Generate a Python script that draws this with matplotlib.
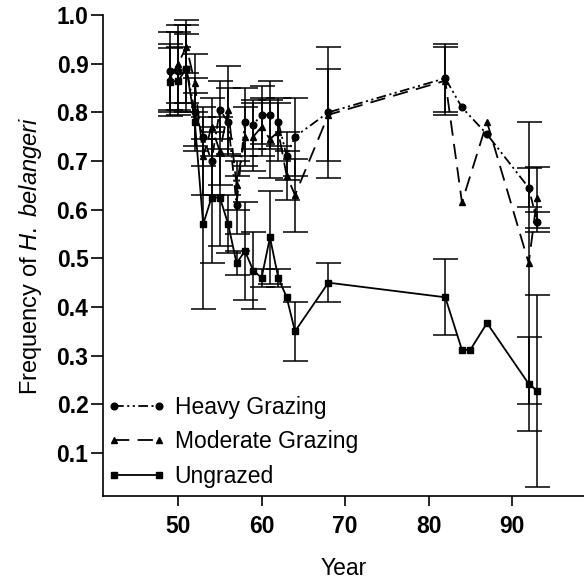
import matplotlib
matplotlib.use("Agg")
import matplotlib.pyplot as plt

plt.rcParams['font.family'] = ['Liberation Sans', 'DejaVu Sans']
plt.rcParams['lines.scale_dashes'] = False
plt.rcParams['mathtext.fontset'] = 'custom'
plt.rcParams['mathtext.rm'] = 'Liberation Sans'
plt.rcParams['mathtext.it'] = 'Liberation Sans:italic'

# ---- data ----
heavy_years = [49, 50, 51, 52, 53, 54, 55, 56, 57, 58, 59, 60, 61, 62, 63, 64, 68, 82, 84, 87, 92, 93]
heavy_vals  = [0.885, 0.885, 0.89, 0.80, 0.75, 0.70, 0.805, 0.78, 0.61, 0.78, 0.775, 0.795, 0.795, 0.78, 0.71, 0.75, 0.80, 0.87, 0.81, 0.755, 0.645, 0.575]
heavy_err   = [0.08, 0.08, 0.09, 0.07, 0.06, 0.07, 0.06, 0.07, 0.06, 0.07, 0.05, 0.06, 0.07, 0.05, 0.05, 0.08, 0.135, 0.07, 0.0, 0.0, 0.04, 0.02]

moder_years = [49, 50, 51, 52, 53, 54, 55, 56, 57, 58, 59, 60, 61, 62, 63, 64, 68, 82, 84, 87, 92, 93]
moder_vals  = [0.87, 0.90, 0.935, 0.86, 0.71, 0.77, 0.72, 0.805, 0.65, 0.75, 0.75, 0.77, 0.745, 0.76, 0.67, 0.63, 0.795, 0.865, 0.615, 0.78, 0.49, 0.625]
moder_err   = [0.07, 0.08, 0.055, 0.06, 0.08, 0.06, 0.07, 0.09, 0.05, 0.06, 0.07, 0.06, 0.08, 0.06, 0.05, 0.075, 0.095, 0.07, 0.0, 0.0, 0.29, 0.062]

ungr_years = [49, 50, 51, 52, 53, 54, 55, 56, 57, 58, 59, 60, 61, 62, 63, 64, 68, 82, 84, 85, 87, 92, 93]
ungr_vals  = [0.862, 0.865, 0.89, 0.78, 0.57, 0.625, 0.625, 0.57, 0.49, 0.515, 0.475, 0.46, 0.543, 0.46, 0.42, 0.35, 0.45, 0.42, 0.312, 0.312, 0.367, 0.242, 0.228]
ungr_err   = [0.07, 0.07, 0.07, 0.06, 0.175, 0.135, 0.10, 0.06, 0.025, 0.10, 0.08, 0.018, 0.095, 0.018, 0.0, 0.06, 0.04, 0.078, 0.0, 0.0, 0.0, 0.097, 0.197]

x_ticks = [50, 60, 70, 80, 90]
y_ticks = [0.1, 0.2, 0.3, 0.4, 0.5, 0.6, 0.7, 0.8, 0.9, 1.0]

series = [
    ('Heavy Grazing', heavy_years, heavy_vals, heavy_err, 'o', (0, (7, 2.5, 1.5, 2.5, 1.5, 2.5))),
    ('Moderate Grazing', moder_years, moder_vals, moder_err, '^', (0, (11, 6))),
    ('Ungrazed', ungr_years, ungr_vals, ungr_err, 's', '-'),
]

# ---- figure ----
fig = plt.figure(figsize=(5.84, 5.79), dpi=100)
ax = fig.add_axes([103/584, 1 - 496/579, 1 - 103/584, (496 - 15)/579])

handles = []
for label, xs, ys, es, mk, ls in series:
    ex = [x for x, e in zip(xs, es) if e > 0]
    ey = [y for y, e in zip(ys, es) if e > 0]
    ee = [e for e in es if e > 0]
    ax.errorbar(ex, ey, yerr=ee, fmt='none', ecolor='black', elinewidth=1.1,
                capsize=9, capthick=1.1)
    h, = ax.plot(xs, ys, color='black', lw=1.3, linestyle=ls, marker=mk,
                 markersize=4.8, label=label)
    handles.append(h)

ax.set_xlim(41.0, 98.62)
ax.set_ylim(0.0117, 1.0)
ax.set_xticks(x_ticks)
ax.set_xticklabels([str(t) for t in x_ticks])
ax.set_yticks(y_ticks)
ax.set_yticklabels([f"{t:.1f}" for t in y_ticks])

for s in ['top', 'right']:
    ax.spines[s].set_visible(False)
for s in ['left', 'bottom']:
    ax.spines[s].set_linewidth(1.2)
ax.tick_params(axis='y', direction='out', length=8.5, width=1.2, labelsize=16.5, pad=2)
ax.tick_params(axis='x', direction='out', length=7.5, width=1.2, labelsize=16.5, pad=6)
for lab in ax.get_xticklabels() + ax.get_yticklabels():
    lab.set_fontweight('bold')

ax.set_xlabel('Year', fontsize=16.5, labelpad=14)
ax.set_ylabel(r'Frequency of $\mathit{H.}$ $\mathit{belangeri}$', fontsize=17, labelpad=9)

leg = ax.legend(handles, [h.get_label() for h in handles], loc='upper left',
                bbox_to_anchor=(107/584, 1 - 396/579),
                bbox_transform=fig.transFigure, frameon=False, fontsize=16.5,
                handlelength=2.55, handletextpad=0.4, labelspacing=0.5,
                numpoints=2, borderaxespad=0, borderpad=0)

fig.savefig('out.png', dpi=100)
